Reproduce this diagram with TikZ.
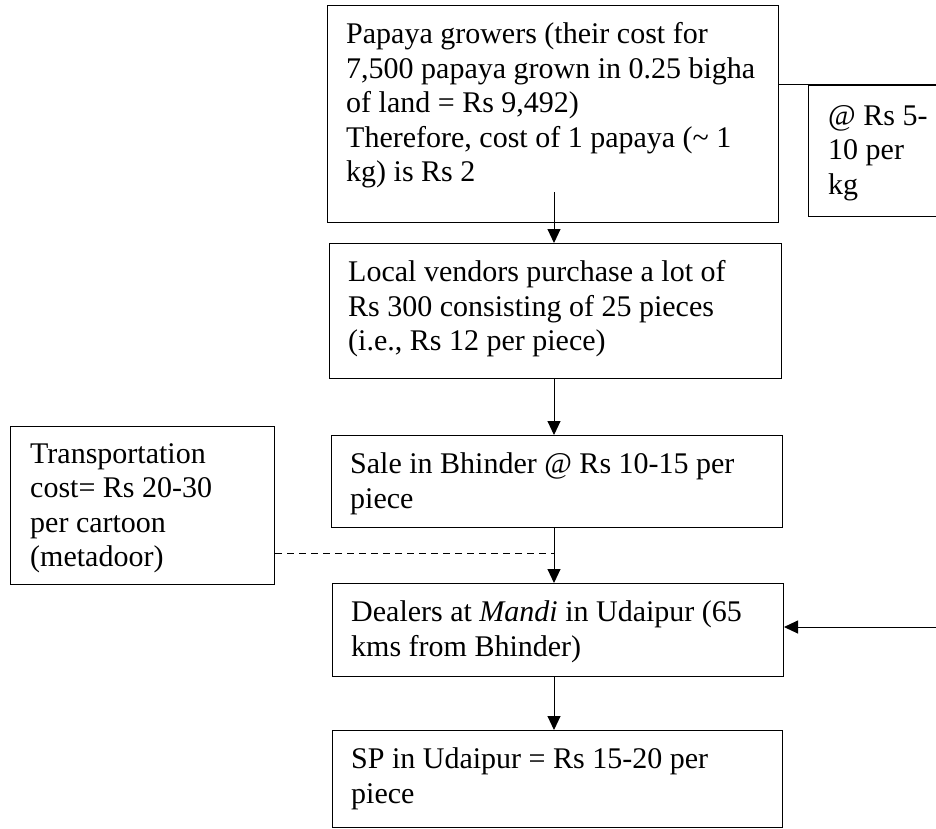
\documentclass[tikz,border=0pt]{standalone}
\usepackage{fontspec}
\setmainfont{Liberation Serif}
\usetikzlibrary{arrows.meta}
\newcommand\bodyfont{\fontsize{30}{34.5}\selectfont}
\begin{document}
\begin{tikzpicture}[x=1pt,y=-1pt,
  frame/.style={draw, line width=1pt, rectangle, inner sep=0pt, anchor=north west},
  txt/.style={font=\bodyfont, align=left, inner sep=0pt, anchor=north west},
  arr/.style={line width=1pt, -{Triangle[length=14pt,width=13pt]}},
  link/.style={line width=1pt},
  dashlink/.style={line width=1pt, dash pattern=on 7pt off 5pt}]
\useasboundingbox (0,0) rectangle (936,828);
\clip (0,0) rectangle (936,828);
% boxes
\node[frame, minimum width=451pt, minimum height=217pt] (grow) at (327,5) {};
\node[frame, minimum width=452pt, minimum height=135pt] (vend) at (329,243) {};
\node[frame, minimum width=451pt, minimum height=92pt] (sale) at (331,435) {};
\node[frame, minimum width=451pt, minimum height=93pt] (deal) at (332,583) {};
\node[frame, minimum width=450pt, minimum height=97pt] (sp) at (332,730) {};
\node[frame, minimum width=264pt, minimum height=158pt] (trans) at (10,426) {};
\node[frame, minimum width=160pt, minimum height=131pt] (price) at (808,85) {};
% texts
\node[txt] (growt) at (346,19.3) {\strut Papaya growers (their cost for\\7,500 papaya grown in 0.25 bigha\\of land = Rs 9,492)\\Therefore, cost of 1 papaya (\textasciitilde{} 1\\kg) is Rs 2};
\node[txt] (vendt) at (348,257.3) {\strut Local vendors purchase a lot of\\Rs 300 consisting of 25 pieces\\(i.e., Rs 12 per piece)};
\node[txt] (salet) at (350,449.3) {\strut Sale in Bhinder @ Rs 10-15 per\\piece};
\node[txt] (dealt) at (351,597.3) {\strut Dealers at \textit{Mandi} in Udaipur (65\\kms from Bhinder)};
\node[txt] (spt) at (351,744.3) {\strut SP in Udaipur = Rs 15-20 per\\piece};
\node[txt] (transt) at (30,439) {\strut Transportation\\cost= Rs 20-30\\per cartoon\\(metadoor)};
\node[txt] (pricet) at (828,101) {\strut @ Rs 5-\\10 per\\kg};
% connectors
\coordinate (s1) at (554,192);
\coordinate (dl) at (300,553);
\coordinate (re) at (936,627);
\coordinate (rt) at (936,84);
\draw[arr] (s1) -- (s1 |- vend.north);
\draw[arr] (vend.south -| s1) -- (sale.north -| s1);
\draw[arr] (sale.south -| s1) -- (deal.north -| s1);
\draw[arr] (deal.south -| s1) -- (sp.north -| s1);
\draw[dashlink] (trans.east |- dl) -- (s1 |- dl);
\draw[arr] (re) -- (re -| deal.east);
\draw[link] (grow.east |- rt) -- (rt);
\end{tikzpicture}
\end{document}
